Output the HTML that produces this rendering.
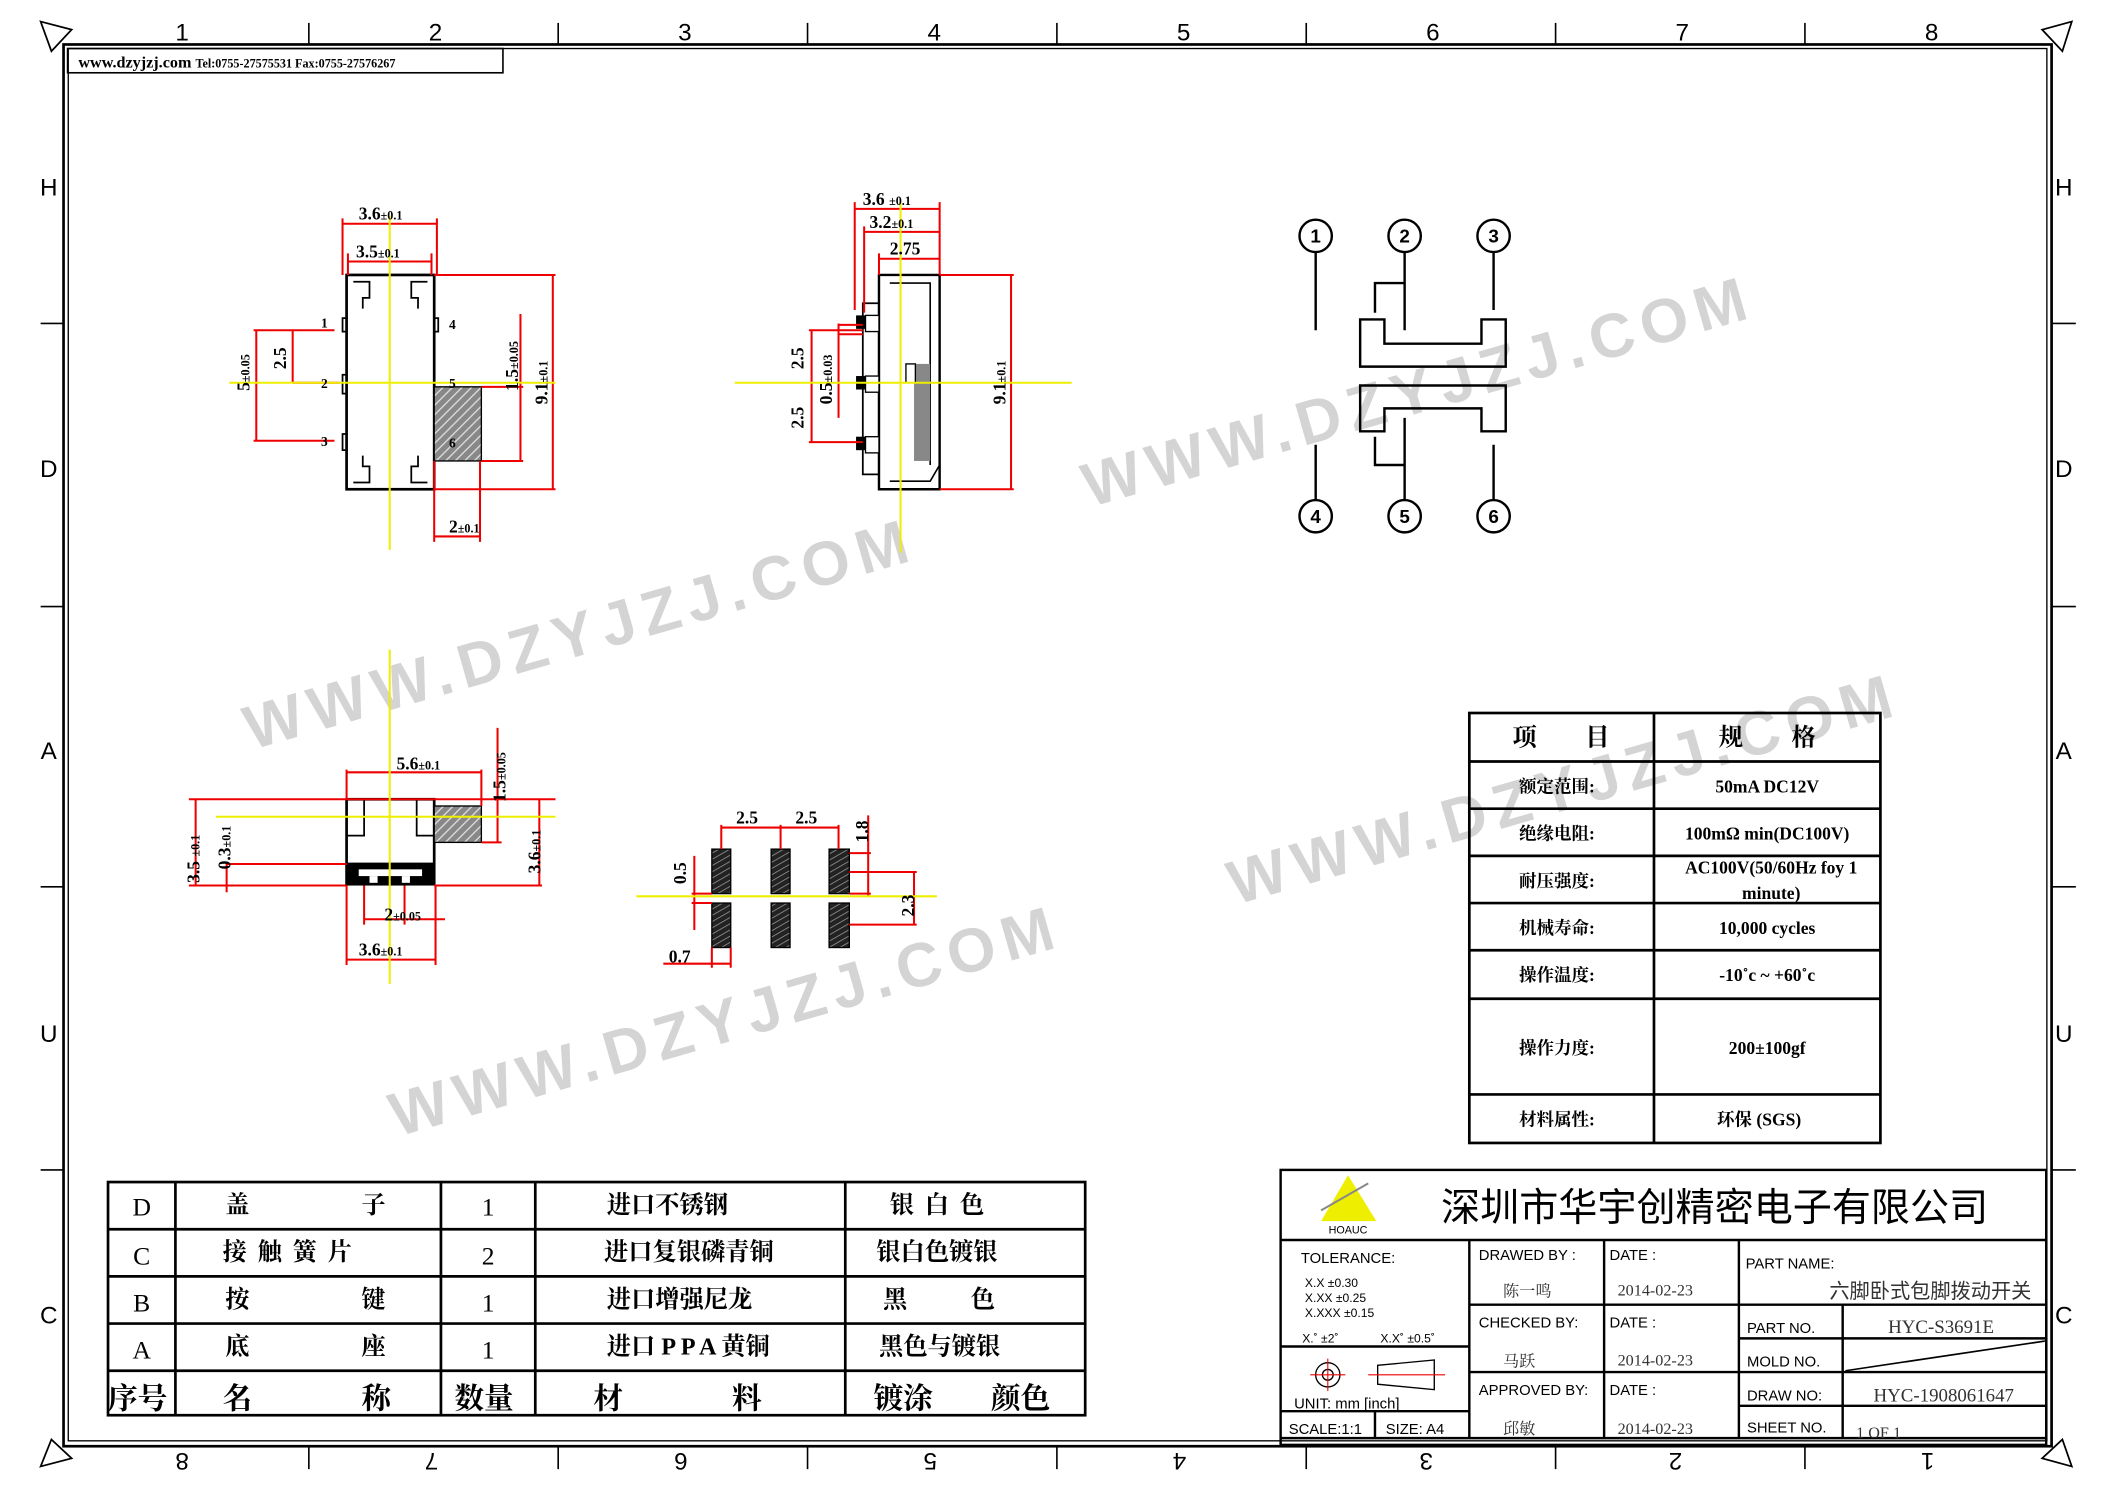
<!DOCTYPE html>
<html><head><meta charset="utf-8"><style>
html,body{margin:0;padding:0;background:#fff}
svg{display:block}
text{font-family:"Liberation Serif","Noto Serif CJK SC",serif;}
.s{font-family:"Liberation Sans","Noto Sans CJK SC",sans-serif;}
.wm{font-family:"Liberation Sans",sans-serif;font-weight:bold;}
</style></head><body>
<svg width="2103" height="1488" viewBox="0 0 1560 1104" xmlns="http://www.w3.org/2000/svg">
<defs>
<pattern id="h" width="5" height="5" patternUnits="userSpaceOnUse" patternTransform="rotate(45)"><rect width="5" height="5" fill="#888"/><line x1="0" y1="0" x2="0" y2="5" stroke="#ddd" stroke-width="2"/></pattern>
<pattern id="p" width="4" height="4" patternUnits="userSpaceOnUse" patternTransform="rotate(60)"><rect width="4" height="4" fill="#222"/><line x1="0" y1="0" x2="0" y2="4" stroke="#aaa" stroke-width="1"/></pattern>
</defs>
<rect width="1560" height="1104" fill="#fff"/>
<!-- watermarks -->
<g fill="#d4d4d4" font-size="46" letter-spacing="6" text-anchor="middle">
<text class="wm" x="430" y="486" transform="rotate(-16 430 470)">WWW.DZYJZJ.COM</text>
<text class="wm" x="1052" y="306" transform="rotate(-16 1052 290)">WWW.DZYJZJ.COM</text>
<text class="wm" x="538" y="773" transform="rotate(-16 538 757)">WWW.DZYJZJ.COM</text>
<text class="wm" x="1160" y="601" transform="rotate(-16 1160 585)">WWW.DZYJZJ.COM</text>
</g>
<!-- frame -->
<rect x="47" y="33" width="1475" height="1040" fill="none" stroke="#000" stroke-width="2"/>
<rect x="50.5" y="36" width="1468" height="1033" fill="none" stroke="#000" stroke-width="1"/>
<g stroke="#000" stroke-width="1.2">
<line x1="229" y1="17" x2="229" y2="33"/><line x1="414" y1="17" x2="414" y2="33"/><line x1="599" y1="17" x2="599" y2="33"/><line x1="784" y1="17" x2="784" y2="33"/><line x1="969" y1="17" x2="969" y2="33"/><line x1="1154" y1="17" x2="1154" y2="33"/><line x1="1339" y1="17" x2="1339" y2="33"/>
<line x1="229" y1="1073" x2="229" y2="1090"/><line x1="414" y1="1073" x2="414" y2="1090"/><line x1="599" y1="1073" x2="599" y2="1090"/><line x1="784" y1="1073" x2="784" y2="1090"/><line x1="969" y1="1073" x2="969" y2="1090"/><line x1="1154" y1="1073" x2="1154" y2="1090"/><line x1="1339" y1="1073" x2="1339" y2="1090"/>
<line x1="30" y1="240" x2="47" y2="240"/><line x1="30" y1="450" x2="47" y2="450"/><line x1="30" y1="658" x2="47" y2="658"/><line x1="30" y1="868" x2="47" y2="868"/>
<line x1="1522" y1="240" x2="1540" y2="240"/><line x1="1522" y1="450" x2="1540" y2="450"/><line x1="1522" y1="658" x2="1540" y2="658"/><line x1="1522" y1="868" x2="1540" y2="868"/>
</g>
<g fill="none" stroke="#000" stroke-width="1.3">
<polygon points="30,16 53,22 38,38"/><polygon points="1537,16 1515,22 1530,38"/><polygon points="30,1088 53,1082 38,1068"/><polygon points="1537,1088 1515,1082 1530,1068"/>
</g>
<g class="s" font-size="18" text-anchor="middle" fill="#000">
<text class="s" x="135" y="30">1</text><text class="s" x="323" y="30">2</text><text class="s" x="508" y="30">3</text><text class="s" x="693" y="30">4</text><text class="s" x="878" y="30">5</text><text class="s" x="1063" y="30">6</text><text class="s" x="1248" y="30">7</text><text class="s" x="1433" y="30">8</text>
<text class="s" x="36" y="145">H</text><text class="s" x="36" y="354">D</text><text class="s" x="36" y="563">A</text><text class="s" x="36" y="773">U</text><text class="s" x="36" y="982">C</text>
<text class="s" x="1531" y="145">H</text><text class="s" x="1531" y="354">D</text><text class="s" x="1531" y="563">A</text><text class="s" x="1531" y="773">U</text><text class="s" x="1531" y="982">C</text>
<g transform="rotate(180 780 1084)">
<text class="s" x="1425" y="1090">8</text><text class="s" x="1240" y="1090">7</text><text class="s" x="1055" y="1090">6</text><text class="s" x="870" y="1090">5</text><text class="s" x="685" y="1090">4</text><text class="s" x="502" y="1090">3</text><text class="s" x="317" y="1090">2</text><text class="s" x="130" y="1090">1</text>
</g>
</g>
<!-- header -->
<rect x="50" y="36" width="323" height="18" fill="none" stroke="#000" stroke-width="1.2"/>
<text x="58" y="50" font-size="12" font-weight="bold">www.dzyjzj.com <tspan font-size="9">Tel:0755-27575531 Fax:0755-27576267</tspan></text>

<!-- DRAWING 1 -->
<g fill="none" stroke="#000" stroke-width="2">
<rect x="257" y="204" width="65" height="159"/>
<path d="M262 209h12v12h-5v8M317 209h-12v12h5v8M262 358h12v-12h-5v-8M317 358h-12v-12h5v-8" stroke-width="1.3"/>
<path d="M257 236h-3v10h3M257 278h-3v14h3M257 322h-3v12h3M322 236h3v10h-3M322 322h3v12h-3" stroke-width="1.3"/>
</g>
<rect x="322" y="287" width="35" height="55" fill="url(#h)" stroke="#000"/>
<g stroke="#e00" stroke-width="1.5" fill="none">
<path d="M254 162V204M324 162V204M254 166H324M258 188V204M320 188V204M258 194H320"/>
<path d="M322 204H412M322 363H412M410 204V363"/>
<path d="M357 287H388M357 342H388M386 233V342"/>
<path d="M322 342V402M356 342V402M322 398H356"/>
<path d="M188 245H248M188 327H248M190 245V327M217 245V284M217 284H252"/>
</g>
<g stroke="#ee0" stroke-width="1.5"><line x1="289" y1="160" x2="289" y2="408"/><line x1="170" y1="284" x2="412" y2="284"/></g>
<g font-size="13" font-weight="bold" fill="#000">
<text x="266" y="163">3.6<tspan font-size="9">±0.1</tspan></text>
<text x="264" y="191">3.5<tspan font-size="9">±0.1</tspan></text>
<text x="333" y="395">2<tspan font-size="9">±0.1</tspan></text>
<text transform="translate(406,300) rotate(-90)">9.1<tspan font-size="9">±0.1</tspan></text>
<text transform="translate(384,290) rotate(-90)">1.5<tspan font-size="9">±0.05</tspan></text>
<text transform="translate(185,290) rotate(-90)">5<tspan font-size="9">±0.05</tspan></text>
<text transform="translate(212,274) rotate(-90)">2.5</text>
<g font-size="10"><text x="238" y="243">1</text><text x="238" y="288">2</text><text x="238" y="331">3</text><text x="333" y="244">4</text><text x="333" y="288">5</text><text x="333" y="332">6</text></g>
</g>

<!-- DRAWING 2 -->
<g fill="none" stroke="#000" stroke-width="1.8">
<path d="M652 204H697V363H652Z"/>
<path d="M640 225H652V352H640Z" stroke-width="1.3"/>
<path d="M660 210H690V220M660 357H690L697 345" stroke-width="1.2"/>
<path d="M690 220V345" stroke-width="1.2"/>
</g>
<rect x="678" y="270" width="12" height="72" fill="#888"/>
<rect x="672" y="270" width="7" height="14" fill="#fff" stroke="#000"/>
<g fill="#000"><rect x="635" y="234" width="7" height="10"/><rect x="635" y="279" width="7" height="10"/><rect x="635" y="324" width="7" height="10"/></g>
<g fill="#fff" stroke="#000"><rect x="642" y="234" width="10" height="12"/><rect x="642" y="279" width="10" height="12"/><rect x="642" y="324" width="10" height="12"/></g>
<g stroke="#e00" stroke-width="1.5" fill="none">
<path d="M634 150V230M697 150V204M634 155H697M641 168V232M641 172H697M652 188V204M652 192H697"/>
<path d="M697 204H752M697 363H752M750 204V363"/>
<path d="M600 245H640M600 328H640M602 245V328M622 240V310M622 241H640M622 248H640"/>
</g>
<g stroke="#ee0" stroke-width="1.5"><line x1="668" y1="150" x2="668" y2="410"/><line x1="545" y1="284" x2="795" y2="284"/></g>
<g font-size="13" font-weight="bold" fill="#000">
<text x="640" y="152">3.6 <tspan font-size="9">±0.1</tspan></text>
<text x="645" y="169">3.2<tspan font-size="9">±0.1</tspan></text>
<text x="660" y="189">2.75</text>
<text transform="translate(746,300) rotate(-90)">9.1<tspan font-size="9">±0.1</tspan></text>
<text transform="translate(596,274) rotate(-90)">2.5</text>
<text transform="translate(596,318) rotate(-90)">2.5</text>
<text transform="translate(617,300) rotate(-90)">0.5<tspan font-size="9">±0.03</tspan></text>
</g>

<!-- PIN DIAGRAM -->
<g fill="none" stroke="#000" stroke-width="1.8">
<circle cx="976" cy="175" r="12"/><circle cx="1042" cy="175" r="12"/><circle cx="1108" cy="175" r="12"/>
<circle cx="976" cy="383" r="12"/><circle cx="1042" cy="383" r="12"/><circle cx="1108" cy="383" r="12"/>
<path d="M976 187V245M1108 187V230M1042 187V245M1042 210H1020V232M976 330V371M1108 330V371M1042 310V371M1042 345H1020V324"/>
<path d="M1009 237H1027V255H1099V237H1117V272H1009Z"/>
<path d="M1009 286H1117V320H1099V303H1027V320H1009Z"/>
</g>
<g font-size="14" text-anchor="middle" font-weight="bold"><text class="s" x="976" y="180">1</text><text class="s" x="1042" y="180">2</text><text class="s" x="1108" y="180">3</text><text class="s" x="976" y="388">4</text><text class="s" x="1042" y="388">5</text><text class="s" x="1108" y="388">6</text></g>

<!-- SPEC TABLE -->
<g fill="none" stroke="#000" stroke-width="2">
<rect x="1090" y="529" width="305" height="319"/>
<path d="M1227 529V848M1090 565H1395M1090 600H1395M1090 635H1395M1090 670H1395M1090 705H1395M1090 741H1395M1090 812H1395"/>
</g>
<g font-size="13" font-weight="bold" text-anchor="middle" fill="#000">
<text x="1158" y="553" font-size="18">项　　目</text><text x="1311" y="553" font-size="18">规　　格</text>
<text x="1155" y="588">额定范围:</text><text x="1311" y="588">50mA DC12V</text>
<text x="1155" y="623">绝缘电阻:</text><text x="1311" y="623">100mΩ min(DC100V)</text>
<text x="1155" y="658">耐压强度:</text><text x="1314" y="648">AC100V(50/60Hz foy 1</text><text x="1314" y="667">minute)</text>
<text x="1155" y="693">机械寿命:</text><text x="1311" y="693">10,000 cycles</text>
<text x="1155" y="728">操作温度:</text><text x="1311" y="728">-10˚c ~ +60˚c</text>
<text x="1155" y="782">操作力度:</text><text x="1311" y="782">200±100gf</text>
<text x="1155" y="835">材料属性:</text><text x="1305" y="835">环保 (SGS)</text>
</g>

<!-- DRAWING 3 -->
<g fill="none" stroke="#000" stroke-width="2">
<rect x="257" y="593" width="65" height="63"/>
<path d="M270 593V620H257M309 593V620H322" stroke-width="1.3"/>
</g>
<rect x="257" y="640" width="65" height="17" fill="#000"/>
<rect x="266" y="645" width="47" height="5" fill="#fff"/>
<rect x="274" y="650" width="6" height="5" fill="#fff"/><rect x="298" y="650" width="6" height="5" fill="#fff"/>
<rect x="322" y="598" width="35" height="27" fill="url(#h)" stroke="#000"/>
<g stroke="#e00" stroke-width="1.5" fill="none">
<path d="M257 571V593M357 571V598M257 573H357"/>
<path d="M140 593H412M140 657H257M322 657H402M145 593V657M400 593V657"/>
<path d="M357 625H372M369 540V625"/>
<path d="M168 640V662M168 641H257"/>
<path d="M270 657V686M300 657V686M270 682H330"/>
<path d="M257 657V716M323 657V716M257 712H323"/>
</g>
<g stroke="#ee0" stroke-width="1.5"><line x1="289" y1="482" x2="289" y2="730"/><line x1="160" y1="606" x2="412" y2="606"/></g>
<g font-size="13" font-weight="bold" fill="#000">
<text x="294" y="571">5.6<tspan font-size="9">±0.1</tspan></text>
<text x="266" y="709">3.6<tspan font-size="9">±0.1</tspan></text>
<text x="285" y="683">2<tspan font-size="9">±0.05</tspan></text>
<text transform="translate(148,655) rotate(-90)">3.5 <tspan font-size="9">±0.1</tspan></text>
<text transform="translate(171,645) rotate(-90)">0.3<tspan font-size="9">±0.1</tspan></text>
<text transform="translate(375,595) rotate(-90)">1.5<tspan font-size="9">±0.05</tspan></text>
<text transform="translate(401,648) rotate(-90)">3.6<tspan font-size="9">±0.1</tspan></text>
</g>

<!-- FOOTPRINT -->
<g fill="url(#p)" stroke="#000">
<rect x="528" y="630" width="14" height="33"/><rect x="572" y="630" width="14" height="33"/><rect x="615" y="630" width="15" height="33"/>
<rect x="528" y="670" width="14" height="33"/><rect x="572" y="670" width="14" height="33"/><rect x="615" y="670" width="15" height="33"/>
</g>
<g stroke="#e00" stroke-width="1.5" fill="none">
<path d="M535 612V630M579 612V630M622 612V630M535 614H622"/>
<path d="M630 633H646M630 663H646M644 605V665"/>
<path d="M630 647H680M630 686H680M678 647V686"/>
<path d="M513 663H528M513 670H528M515 635V690"/>
<path d="M492 715H542M528 703V718M542 703V718"/>
</g>
<g stroke="#ee0" stroke-width="1.5"><line x1="472" y1="665" x2="695" y2="665"/></g>
<g font-size="13" font-weight="bold" fill="#000">
<text x="546" y="611">2.5</text><text x="590" y="611">2.5</text>
<text transform="translate(644,625) rotate(-90)">1.8</text>
<text transform="translate(509,656) rotate(-90)">0.5</text>
<text transform="translate(678,680) rotate(-90)">2.3</text>
<text x="496" y="714">0.7</text>
</g>

<!-- MATERIALS TABLE -->
<g fill="none" stroke="#000" stroke-width="2">
<rect x="80" y="877" width="725" height="173"/>
<path d="M80 912H805M80 947H805M80 982H805M80 1017H805M130 877V1050M327 877V1050M397 877V1050M627 877V1050"/>
</g>
<g font-size="19" fill="#000" text-anchor="middle">
<text x="105" y="902">D</text><text x="105" y="938">C</text><text x="105" y="973">B</text><text x="105" y="1008">A</text>
<text x="362" y="902">1</text><text x="362" y="938">2</text><text x="362" y="973">1</text><text x="362" y="1008">1</text>
</g>
<g font-size="18" font-weight="bold" fill="#000">
<text x="167" y="900">盖</text><text x="268" y="900">子</text>
<text x="165" y="935" letter-spacing="8">接触簧片</text>
<text x="167" y="970">按</text><text x="268" y="970">键</text>
<text x="167" y="1005">底</text><text x="268" y="1005">座</text>
<text x="450" y="900">进口不锈钢</text>
<text x="448" y="935">进口复银磷青铜</text>
<text x="450" y="970">进口增强尼龙</text>
<text x="450" y="1005" xml:space="preserve">进口 P P A 黄铜</text>
<text x="660" y="900" letter-spacing="8">银白色</text>
<text x="650" y="935">银白色镀银</text>
<text x="655" y="970">黑</text><text x="720" y="970">色</text>
<text x="652" y="1005">黑色与镀银</text>
<text x="80" y="1045" font-size="22">序号</text><text x="165" y="1045" font-size="22">名</text><text x="268" y="1045" font-size="22">称</text>
<text x="337" y="1045" font-size="22">数量</text><text x="440" y="1045" font-size="22">材</text><text x="543" y="1045" font-size="22">料</text>
<text x="648" y="1045" font-size="22">镀涂</text><text x="735" y="1045" font-size="22">颜色</text>
</g>

<!-- TITLE BLOCK -->
<g fill="none" stroke="#000" stroke-width="1.8">
<rect x="950" y="868" width="568" height="204"/>
<path d="M950 920H1518M1090 920V1067M1190 920V1067M1290 920V1067M1367 968V1067M950 1067H1518"/>
<path d="M950 999H1090M950 1047H1090M1020 1047V1067M1090 968H1290M1090 1018H1290M1290 968H1518M1290 993H1518M1290 1018H1518M1290 1043H1518"/>
<path d="M1369 1017L1517 995" stroke-width="1.2"/>
</g>
<polygon points="1000,872 980,906 1021,906" fill="#ee0"/>
<line x1="980" y1="898" x2="1015" y2="878" stroke="#888" stroke-width="1.5"/>
<text x="1000" y="915" class="s" font-size="8" text-anchor="middle">HOAUC</text>
<text x="1272" y="906" font-size="29" text-anchor="middle" class="s">深圳市华宇创精密电子有限公司</text>
<g font-size="11" fill="#000">
<text class="s" x="965" y="937">TOLERANCE:</text>
<text class="s" x="968" y="955" font-size="9">X.X    ±0.30</text><text class="s" x="968" y="966" font-size="9">X.XX   ±0.25</text><text class="s" x="968" y="977" font-size="9">X.XXX  ±0.15</text>
<text class="s" x="966" y="996" font-size="9">X.˚ ±2˚</text><text class="s" x="1024" y="996" font-size="9">X.X˚ ±0.5˚</text>
<text class="s" x="960" y="1045">UNIT:  mm  [inch]</text>
<text class="s" x="956" y="1064">SCALE:1:1</text><text class="s" x="1028" y="1064">SIZE: A4</text>
<text class="s" x="1097" y="935">DRAWED BY :</text><text class="s" x="1194" y="935">DATE :</text>
<text class="s" x="1097" y="985">CHECKED BY:</text><text class="s" x="1194" y="985">DATE :</text>
<text class="s" x="1097" y="1035">APPROVED BY:</text><text class="s" x="1194" y="1035">DATE :</text>
<text class="s" x="1295" y="941">PART  NAME:</text>
<text class="s" x="1296" y="989">PART  NO.</text><text class="s" x="1296" y="1014">MOLD  NO.</text><text class="s" x="1296" y="1039">DRAW  NO:</text><text class="s" x="1296" y="1063">SHEET  NO.</text>
</g>
<g fill="none" stroke="#000"><circle cx="985" cy="1020" r="9"/><circle cx="985" cy="1020" r="4"/><path d="M1022 1013L1064 1009V1031L1022 1027Z"/></g>
<g stroke="#e00" stroke-width="0.8"><line x1="972" y1="1020" x2="998" y2="1020"/><line x1="985" y1="1008" x2="985" y2="1032"/><line x1="1015" y1="1020" x2="1072" y2="1020"/></g>
<g font-size="12" fill="#333">
<text x="1115" y="962">陈一鸣</text><text x="1115" y="1014">马跃</text><text x="1115" y="1064">邱敏</text>
<text x="1200" y="961">2014-02-23</text><text x="1200" y="1013">2014-02-23</text><text x="1200" y="1064">2014-02-23</text>
<text x="1507" y="963" text-anchor="end" font-size="15" class="s">六脚卧式包脚拨动开关</text>
<text x="1440" y="989" text-anchor="middle" font-size="14">HYC-S3691E</text>
<text x="1442" y="1040" text-anchor="middle" font-size="14">HYC-1908061647</text>
<text x="1377" y="1067">1 OF 1</text>
</g>
</svg>
</body></html>
